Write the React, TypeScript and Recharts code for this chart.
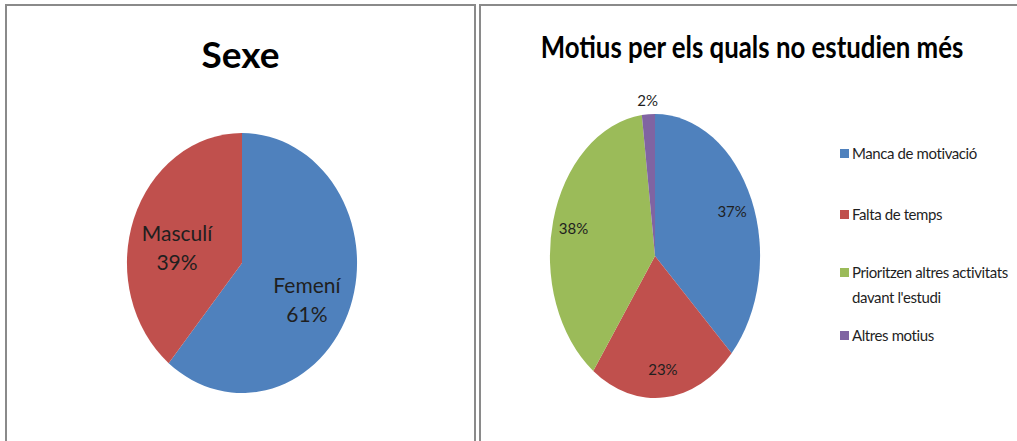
import { Legend, Pie, PieChart } from 'recharts'

const sexeNames = ['Femení', 'Masculí']
const sexeValues = [61, 39]
const sexeColors = ['#4F81BD', '#C0504D']

const motiusNames = [
  'Manca de motivació',
  'Falta de temps',
  "Prioritzen altres activitats davant l'estudi",
  'Altres motius',
]
const motiusValues = [37, 23, 38, 2]
const motiusColors = ['#4F81BD', '#C0504D', '#9BBB59', '#8064A2']

const sexeData = sexeNames.map((name, i) => ({ name, value: sexeValues[i], fill: sexeColors[i] }))
const motiusData = motiusNames.map((name, i) => ({ name, value: motiusValues[i], fill: motiusColors[i] }))

const RAD = Math.PI / 180
const FONT = 'Lato, "Open Sans", Arial, sans-serif'
const NO_MARGIN = { top: 0, right: 0, bottom: 0, left: 0 }

// Excel stretched these pies into ellipses; sectors get squashed with CSS, labels follow the same factor
const SEXE_SX = 0.885
const MOTIUS_SX = 0.74

function sexeLabel(p: any) {
  const r = p.outerRadius * 0.6
  const x = p.cx + r * SEXE_SX * Math.cos(-p.midAngle * RAD)
  const y = p.cy + r * Math.sin(-p.midAngle * RAD)
  return (
    <text x={x} y={y} textAnchor="middle" fill="#1f1f1f" fontSize={21} fontFamily={FONT}>
      <tspan x={x} dy={4}>{p.name}</tspan>
      <tspan x={x} dy={29}>{Math.round(p.percent * 100)}%</tspan>
    </text>
  )
}

function motiusLabel(p: any) {
  const r = p.outerRadius * (p.percent < 0.05 ? 1.1 : 0.8)
  const x = p.cx + r * MOTIUS_SX * Math.cos(-p.midAngle * RAD)
  const y = p.cy + r * Math.sin(-p.midAngle * RAD)
  return (
    <text x={x} y={y} textAnchor="middle" dominantBaseline="central" fill="#1f1f1f" fontSize={15} fontFamily={FONT}>
      {Math.round(p.percent * 100)}%
    </text>
  )
}

const legendGaps = [36, 33, 13, 0]

function MotiusLegend({ payload }: any) {
  const items = [...(payload || [])].sort(
    (a: any, b: any) => motiusNames.indexOf(a.value) - motiusNames.indexOf(b.value),
  )
  return (
    <div style={{ fontFamily: FONT, fontSize: 15, letterSpacing: -0.4, color: '#1f1f1f', width: 172 }}>
      {items.map((item: any, i: number) => (
        <div key={i} style={{ display: 'flex', lineHeight: '25px', marginBottom: legendGaps[i] }}>
          <span
            style={{
              display: 'inline-block',
              width: 9,
              height: 9,
              marginTop: 8,
              marginRight: 3,
              flexShrink: 0,
              background: item.color,
            }}
          />
          <span>{item.value}</span>
        </div>
      ))}
    </div>
  )
}

const panel = {
  position: 'absolute' as const,
  top: 4,
  height: 460,
  border: '2px solid #8a8a8a',
  boxSizing: 'border-box' as const,
  background: '#fff',
}

export default function App() {
  return (
    <div style={{ position: 'absolute', left: 0, top: 0, width: 1017, height: 441, overflow: 'hidden', background: '#fff' }}>
      <style>{`
        .sexe path.recharts-sector { transform: scale(${SEXE_SX}, 1); transform-origin: 242px 263px; }
        .motius path.recharts-sector { transform: scale(${MOTIUS_SX}, 1); transform-origin: 176px 256px; }
      `}</style>
      <div style={{ ...panel, left: 5, width: 471 }} />
      <div style={{ ...panel, left: 479, width: 560 }} />

      <div className="sexe" style={{ position: 'absolute', left: 0, top: 0 }}>
        <PieChart width={478} height={441} margin={NO_MARGIN}>
          <Pie
            data={sexeData}
            dataKey="value"
            nameKey="name"
            cx={242}
            cy={263}
            outerRadius={130}
            startAngle={90}
            endAngle={-270}
            stroke="none"
            label={sexeLabel}
            labelLine={false}
            isAnimationActive={false}
          />
        </PieChart>
      </div>
      <div
        style={{
          position: 'absolute',
          left: 5,
          width: 471,
          top: 29,
          textAlign: 'center',
          fontFamily: FONT,
          fontWeight: 700,
          fontSize: 37,
          lineHeight: '50px',
          color: '#000',
        }}
      >
        Sexe
      </div>

      <div className="motius" style={{ position: 'absolute', left: 479, top: 0 }}>
        <PieChart width={538} height={441} margin={NO_MARGIN}>
          <Pie
            data={motiusData}
            dataKey="value"
            nameKey="name"
            cx={176}
            cy={256}
            outerRadius={142}
            startAngle={90}
            endAngle={-270}
            stroke="none"
            label={motiusLabel}
            labelLine={false}
            isAnimationActive={false}
          />
          <Legend
            layout="vertical"
            content={<MotiusLegend />}
            wrapperStyle={{ position: 'absolute', left: 361, top: 141, width: 175, bottom: 'auto', right: 'auto' }}
          />
        </PieChart>
      </div>
      <div
        style={{
          position: 'absolute',
          left: 479,
          width: 546,
          top: 24,
          textAlign: 'center',
          whiteSpace: 'nowrap',
          fontFamily: FONT,
          fontWeight: 700,
          fontSize: 30,
          lineHeight: '44px',
          color: '#000',
          transform: 'scaleX(0.86)',
          transformOrigin: '273px 0',
        }}
      >
        Motius per els quals no estudien més
      </div>
    </div>
  )
}
